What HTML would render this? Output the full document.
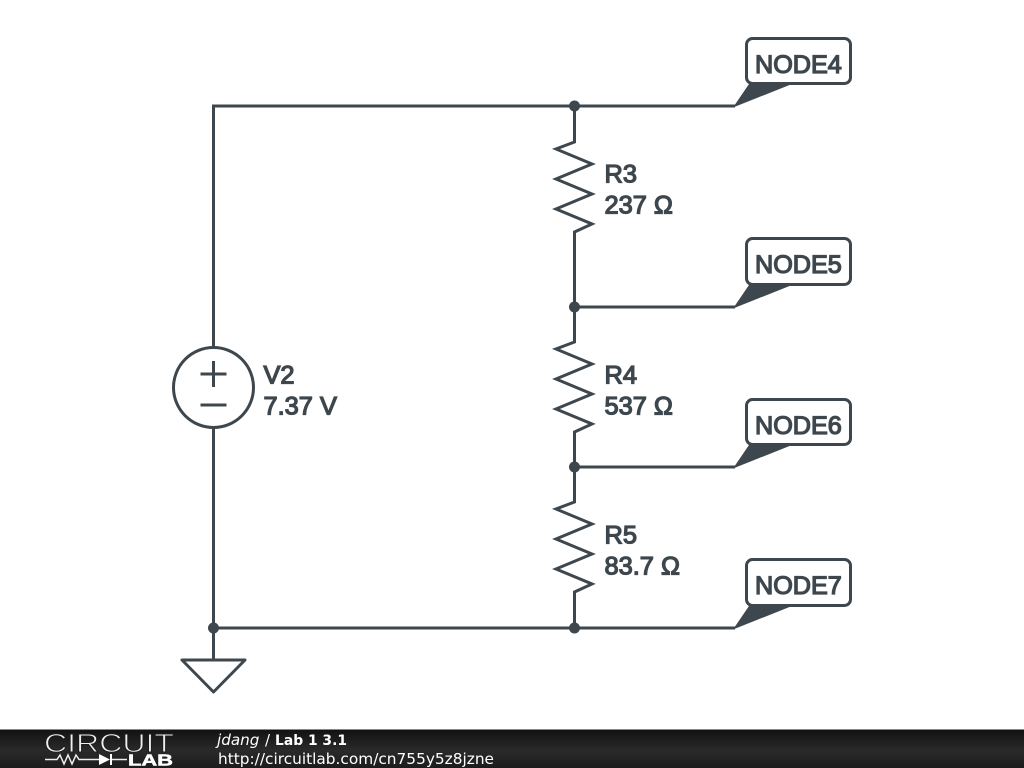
<!DOCTYPE html>
<html><head><meta charset="utf-8"><style>
html,body{margin:0;padding:0;background:#fff;width:1024px;height:768px;overflow:hidden}
svg{display:block}
</style></head><body>
<svg width="1024" height="768" viewBox="0 0 1024 768" xmlns="http://www.w3.org/2000/svg">
<defs><linearGradient id="g" x1="0" y1="0" x2="0" y2="1"><stop offset="0" stop-color="#111"/><stop offset=".55" stop-color="#2a2a2a"/><stop offset="1" stop-color="#1c1c1c"/></linearGradient></defs>
<g fill="none" stroke="#3d474d" stroke-width="3" stroke-linejoin="miter" stroke-miterlimit="3">
<path d="M735 106H213.500V347M213.500 428V628M735 628H213.500M574.500 106V142L556 149L592 164L556 179L592 194L556 209L592 224L574.500 232V342L556 349L592 364L556 379L592 394L556 409L592 424L574.500 432V502L556 509L592 524L556 539L592 554L556 569L592 584L574.500 592V628M574.500 307H735M574.500 467H735"/>
<circle cx="213.500" cy="387.500" r="40"/>
<path d="M200.500 374H226.500M213.500 361V387M200.500 405H226.500"/>
<path d="M213.500 628V660M182 660H245L213.500 692Z" stroke-linejoin="round"/>
<g stroke-width="3"><rect x="746.500" y="38.500" width="104" height="45" rx="6" fill="#fff"/><rect x="746.500" y="238.500" width="104" height="46" rx="6" fill="#fff"/><rect x="746.500" y="399.500" width="104" height="45" rx="6" fill="#fff"/><rect x="746.500" y="559.500" width="104" height="46" rx="6" fill="#fff"/></g>
</g>
<g fill="#3d474d">
<circle cx="574.500" cy="106" r="5.500"/><circle cx="574.500" cy="307" r="5.500"/><circle cx="574.500" cy="467" r="5.500"/><circle cx="574.500" cy="628" r="5.500"/><circle cx="213.500" cy="628" r="5.500"/>
<path d="M733 107.500L749 84H792Z"/><path d="M733 308.500L749 285H792Z"/><path d="M733 468.500L749 445H792Z"/><path d="M733 629.500L749 606H792Z"/>
</g>
<g font-family="'Liberation Sans',sans-serif" font-weight="400" fill="#3d474d" stroke="#3d474d" stroke-width="1.300" font-size="25.400">
<text x="755" y="73" font-size="25.200">NODE4</text><text x="755" y="273" font-size="25.200">NODE5</text><text x="755" y="434" font-size="25.200">NODE6</text><text x="755" y="594" font-size="25.200">NODE7</text>
<text x="604.500" y="182.500">R3</text><text x="604.500" y="213.500">237 Ω</text>
<text x="604.500" y="383.500">R4</text><text x="604.500" y="414.500">537 Ω</text>
<text x="604.500" y="543.500">R5</text><text x="604.500" y="574.500">83.7 Ω</text>
<text x="263.500" y="383.500">V2</text><text x="263.500" y="414.500">7.37 V</text>
</g>
<rect x="0" y="729" width="1024" height="39" fill="url(#g)"/>
<rect x="0" y="729" width="1024" height="1" fill="#888"/>
<text x="44" y="752" font-family="'Liberation Sans',sans-serif" font-size="26" fill="#f0f0f0" stroke="#1e1e1e" stroke-width=".9" textLength="130" lengthAdjust="spacingAndGlyphs">CIRCUIT</text>
<path d="M45 759.500H57L60 755L64 764L68 755L72 764L76 755L79 759.500H99M112 759.500H127" fill="none" stroke="#eee" stroke-width="1.500"/>
<path d="M99 754L110 759.500L99 765Z" fill="#fff"/><rect x="110" y="754" width="2" height="11" fill="#fff"/>
<text x="128" y="765.500" font-family="'Liberation Sans',sans-serif" font-weight="700" font-size="15.500" fill="#fff" stroke="#fff" stroke-width=".5" textLength="45" lengthAdjust="spacingAndGlyphs">LAB</text>
<g font-family="'DejaVu Sans',sans-serif" fill="#fff">
<text x="217" y="745" font-size="15.200" font-style="italic">jdang</text>
<text x="265" y="745" font-size="15">/</text>
<text x="275" y="745" font-size="14.500" font-weight="700" textLength="72" lengthAdjust="spacingAndGlyphs">Lab 1 3.1</text>
<text x="218" y="764" font-size="15.300" textLength="276" lengthAdjust="spacingAndGlyphs">http://circuitlab.com/cn755y5z8jzne</text>
</g>
</svg>
</body></html>
